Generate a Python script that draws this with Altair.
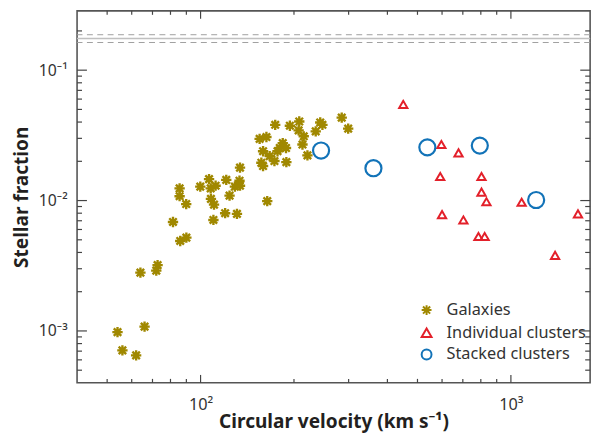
import altair as alt
import pandas as pd

# ---- data ----
galaxy_v = [285, 299, 174, 194, 208, 207, 243, 247, 235, 215, 213, 155, 163, 159, 180, 184,
            167, 173, 157, 189, 221, 134, 85.6, 85.6, 89.9, 99.8, 106.5, 107.8, 111.8, 121,
            133.5, 129, 134, 124, 108, 110.5, 164, 120, 131, 81.5, 110, 86, 90, 72.7, 64, 72,
            66, 54, 56, 62, 177, 188.5, 159]
galaxy_f = [0.0433, 0.0356, 0.0381, 0.0375, 0.0404, 0.0345, 0.0397, 0.0381, 0.0339, 0.0311,
            0.0269, 0.0297, 0.0307, 0.0239, 0.0253, 0.0276, 0.0219, 0.0201, 0.0195, 0.0197,
            0.0222, 0.0179, 0.0124, 0.0108, 0.0094, 0.0128, 0.0146, 0.0124, 0.0130, 0.0144,
            0.0142, 0.0128, 0.0130, 0.0109, 0.0103, 0.0093, 0.0099, 0.0080, 0.0079, 0.00685,
            0.0071, 0.0049, 0.0052, 0.0032, 0.0028, 0.0029, 0.00108, 0.00098, 0.00071, 0.00065,
            0.0239, 0.0253, 0.0184]
cluster_v = [450, 597, 678, 592, 804, 804, 834, 1083, 600, 703, 786, 823, 1645, 1388]
cluster_f = [0.0546, 0.0269, 0.0232, 0.0153, 0.0153, 0.0116, 0.0098, 0.0097, 0.0078, 0.0071,
             0.0053, 0.0053, 0.0079, 0.0038]
stacked_v = [244.5, 360.6, 538, 794, 1206]
stacked_f = [0.0242, 0.0177, 0.0256, 0.0264, 0.0101]

series_names = ["Galaxies", "Individual clusters", "Stacked clusters"]
series_colors = ["#a08800", "#e3202a", "#1273b8"]
asterisk = "M-1,0L1,0M0,-1L0,1M-0.72,-0.72L0.72,0.72M-0.72,0.72L0.72,-0.72"
series_shapes = [asterisk, "triangle-up", "circle"]
series_sizes = [110, 70, 265]
series_strokes = [2.4, 2.0, 2.2]

baryon_band = [0.163, 0.187]
baryon_mid = [0.175]

x_major = [100, 1000]
x_minor = [50, 60, 70, 80, 90, 200, 300, 400, 500, 600, 700, 800, 900]
y_major = [0.001, 0.01, 0.1]
y_minor = [0.0005, 0.0006, 0.0007, 0.0008, 0.0009,
           0.002, 0.003, 0.004, 0.005, 0.006, 0.007, 0.008, 0.009,
           0.02, 0.03, 0.04, 0.05, 0.06, 0.07, 0.08, 0.09, 0.2]

W, H = 520, 377
FONT = "Noto Sans"
TICK = "#444444"

xscale = alt.Scale(type="log", domain=[40, 1800], nice=False)
yscale = alt.Scale(type="log", domain=[0.0004, 0.285], nice=False)

x_axis = alt.Axis(values=x_major, labelExpr="datum.value == 100 ? '10²' : '10³'",
                  ticks=False, tickSize=0, domain=False, grid=False,
                  labelFont=FONT, labelFontSize=16.5, labelColor="#333333", labelPadding=14,
                  title="Circular velocity (km s⁻¹)", titleFont=FONT, titleFontSize=19.3,
                  titleFontWeight="bold", titleColor="#231f20", titleY=45,
                  titleBaseline="alphabetic")
y_axis = alt.Axis(values=y_major,
                  labelExpr="datum.value < 0.005 ? '10⁻³' : (datum.value < 0.05 ? '10⁻²' : '10⁻¹')",
                  ticks=False, tickSize=0, domain=False, grid=False,
                  labelFont=FONT, labelFontSize=16, labelColor="#333333", labelPadding=10,
                  title="Stellar fraction", titleFont=FONT, titleFontSize=19.3,
                  titleFontWeight="bold", titleColor="#231f20", titleX=-56,
                  titleBaseline="middle", titleAngle=270)

color_scale = alt.Scale(domain=series_names, range=series_colors)
shape_scale = alt.Scale(domain=series_names, range=series_shapes)
legend = alt.Legend(title=None, orient="none", legendX=346, legendY=295,
                    labelFont=FONT, labelFontSize=16.5, labelColor="#333333",
                    symbolSize=100, symbolStrokeWidth=2, labelOffset=12,
                    rowPadding=4, padding=0)

band = alt.Chart(pd.DataFrame({"b": baryon_band})).mark_rule(
    color="#a0a0a0", strokeWidth=1, strokeDash=[6, 4.5]).encode(
    y=alt.Y("b:Q", scale=yscale, axis=y_axis))
mid = alt.Chart(pd.DataFrame({"b": baryon_mid})).mark_rule(
    color="#c0c0c0", strokeWidth=1.6).encode(
    y=alt.Y("b:Q", scale=yscale, axis=y_axis))

point_layers = []
for name, vs, fs, size, sw in zip(series_names, [galaxy_v, cluster_v, stacked_v],
                                  [galaxy_f, cluster_f, stacked_f], series_sizes, series_strokes):
    df = pd.DataFrame({"v": vs, "f": fs, "series": [name] * len(vs)})
    point_layers.append(
        alt.Chart(df).mark_point(filled=False, opacity=1, size=size, strokeWidth=sw).encode(
            x=alt.X("v:Q", scale=xscale, axis=x_axis),
            y=alt.Y("f:Q", scale=yscale, axis=y_axis),
            color=alt.Color("series:N", scale=color_scale, legend=legend),
            shape=alt.Shape("series:N", scale=shape_scale, legend=legend),
        )
    )

def xticks(vals, y0, y1):
    return alt.Chart(pd.DataFrame({"v": vals})).mark_rule(color=TICK, strokeWidth=1.2).encode(
        x=alt.X("v:Q", scale=xscale, axis=x_axis), y=alt.value(y0), y2=alt.value(y1))

def yticks(vals, x0, x1):
    return alt.Chart(pd.DataFrame({"f": vals})).mark_rule(color=TICK, strokeWidth=1.2).encode(
        y=alt.Y("f:Q", scale=yscale, axis=y_axis), x=alt.value(x0), x2=alt.value(x1))

ticks = [
    xticks(x_minor, H, H - 4), xticks(x_major, H, H - 8),
    xticks(x_minor, 0, 4), xticks(x_major, 0, 8),
    yticks(y_minor, 0, 5), yticks(y_major, 0, 10),
    yticks(y_minor, W, W - 5), yticks(y_major, W, W - 10),
]

chart = alt.layer(band, mid, *ticks, *point_layers).properties(
    width=W, height=H,
    autosize=alt.AutoSizeParams(type="none"),
    padding={"left": 70, "top": 0, "right": 9, "bottom": 52},
).configure_view(stroke="#555555", strokeWidth=1.6)

chart.save("out.html", embed_options={"renderer": "svg", "actions": False})
